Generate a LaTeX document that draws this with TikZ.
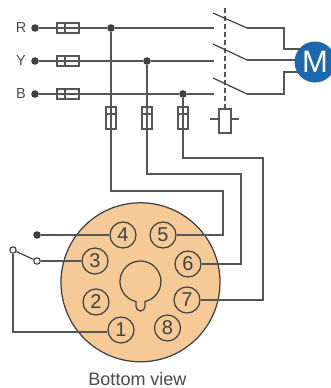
\documentclass[tikz,border=0pt]{standalone}
\usepackage{fontspec}
\setmainfont{Liberation Sans}
\definecolor{ln}{HTML}{414042}
\definecolor{lnsoft}{HTML}{555557}
\definecolor{pinfill}{HTML}{F5CA96}
\definecolor{mot}{HTML}{1B68AE}
\definecolor{txt}{HTML}{4A4A4C}
\tikzset{
 wire/.style={draw=lnsoft,line width=1.4pt},
 blade/.style={draw=ln,line width=1.2pt},
 dotn/.style={circle,fill=ln,draw=none,minimum size=7.6pt,inner sep=0pt},
 opn/.style={circle,fill=white,draw=ln,line width=1.1pt,minimum size=6.4pt,inner sep=0pt},
 pin/.style={circle,draw=ln,line width=1.25pt,minimum size=26pt,inner sep=0pt,font=\fontsize{20}{20}\selectfont,text=ln},
 lab/.style={font=\fontsize{14.5}{16}\selectfont,text=txt},
 captext/.style={font=\fontsize{18}{18}\selectfont,text=txt,inner sep=0pt},
 hfuse/.style={draw=lnsoft,line width=1.4pt,fill=white,minimum width=22pt,minimum height=10pt,inner sep=0pt},
 vfuse/.style={draw=lnsoft,line width=1.4pt,fill=white,minimum width=10pt,minimum height=22pt,inner sep=0pt},
}
\begin{document}
\begin{tikzpicture}[x=1pt,y=-1pt]
\useasboundingbox (0,0) rectangle (331,388);
% base
\node[circle,draw=ln,fill=pinfill,line width=1.25pt,minimum size=159pt,inner sep=0pt] (base) at (140.5,282.3) {};
% terminals
\node[lab] (lr) at (21,27.5) {R};
\node[lab] (ly) at (21,61) {Y};
\node[lab] (lb) at (21,94) {B};
\node[dotn] (dr) at (35,28) {};
\node[dotn] (dy) at (35,61) {};
\node[dotn] (db) at (35,94) {};
\node[dotn] (jr) at (111,28) {};
\node[dotn] (jy) at (147,61) {};
\node[dotn] (jb) at (183,94) {};
\coordinate (er) at (214,28);
\coordinate (ey) at (214,61);
\coordinate (eb) at (214,94);
\draw[wire] (dr) -- (jr) -- (er);
\draw[wire] (dy) -- (jy) -- (ey);
\draw[wire] (db) -- (jb) -- (eb);
% pins
\node[pin] (p4) at (123,235) {4};
\node[pin] (p5) at (163,235) {5};
\node[pin] (p6) at (188,264) {6};
\node[pin] (p7) at (187,300) {7};
\node[pin] (p8) at (167.5,328) {8};
\node[pin] (p1) at (121,330) {1};
\node[pin] (p2) at (96,302) {2};
\node[pin] (p3) at (95,261) {3};
% control wires
\draw[wire] (jr) -- (111,191) -- (223,191) -- (223,235) -- (p5);
\draw[wire] (jy) -- (147,174) -- (241,174) -- (241,264) -- (p6);
\draw[wire] (jb) -- (183,158) -- (263,158) -- (263,300) -- (p7);
% fuses
\foreach \y/\n in {28/a,61/b,94/c}{
 \node[hfuse] (hf\n) at (68,\y) {};
 \draw[wire] (hf\n.west) -- (hf\n.east);
 \draw[wire] (65,\y-5) -- (65,\y+5);
}
\foreach \x/\n in {111/a,147/b,183/c}{
 \node[vfuse] (vf\n) at (\x,118) {};
 \draw[wire] (vf\n.north) -- (vf\n.south);
 \draw[wire] (\x-5,114) -- (\x+5,114);
}
% contactor
\node[draw=lnsoft,line width=1.4pt,minimum width=12pt,minimum height=24pt,inner sep=0pt] (coil) at (225,121) {};
\coordinate (cl) at (210,119);
\coordinate (cr) at (239,119);
\draw[wire] (cl) -- (coil.west |- cl);
\draw[wire] (coil.east |- cr) -- (cr);
\coordinate (dtop) at (225,8);
\draw[draw=lnsoft,line width=1.2pt,dash pattern=on 5pt off 3pt] (dtop) -- (coil.north -| dtop);
% motor
\node[circle,fill=mot,minimum size=41pt,inner sep=0pt,text=white,font=\fontsize{31}{31}\selectfont] (m) at (315,62) {M};
\coordinate (s1a) at (213,13);
\coordinate (s1b) at (247,28);
\coordinate (s2a) at (213,44);
\coordinate (s2b) at (247,60);
\coordinate (s3a) at (213,78);
\coordinate (s3b) at (247,94);
\draw[blade] (s1a) -- (s1b);
\draw[blade] (s2a) -- (s2b);
\draw[blade] (s3a) -- (s3b);
\draw[wire] (s1b) -- (284,28) -- (284,49) -- (300,49);
\draw[wire] (s2b) -- (296,60);
\draw[wire] (s3b) -- (284,94) -- (284,72) -- (298,72);
% keyed centre
\draw[draw=ln,line width=1.25pt] (136,301.5) arc[start angle=102.5,end angle=437.5,radius=20.5] -- (145,306.5) arc[start angle=0,end angle=180,radius=4.5] -- cycle;
% sensor contact
\node[dotn] (c4) at (37,235) {};
\node[opn] (c3) at (37,261) {};
\node[opn] (c0) at (13,250) {};
\draw[wire] (c4) -- (p4);
\draw[wire] (c3) -- (p3);
\draw[blade] (c0) -- (c3);
\draw[wire] (c0) -- (13,332) -- (p1.west |- 0,332);
\node[captext,anchor=base] (capt) at (137.5,385) {Bottom view};
\end{tikzpicture}
\end{document}
